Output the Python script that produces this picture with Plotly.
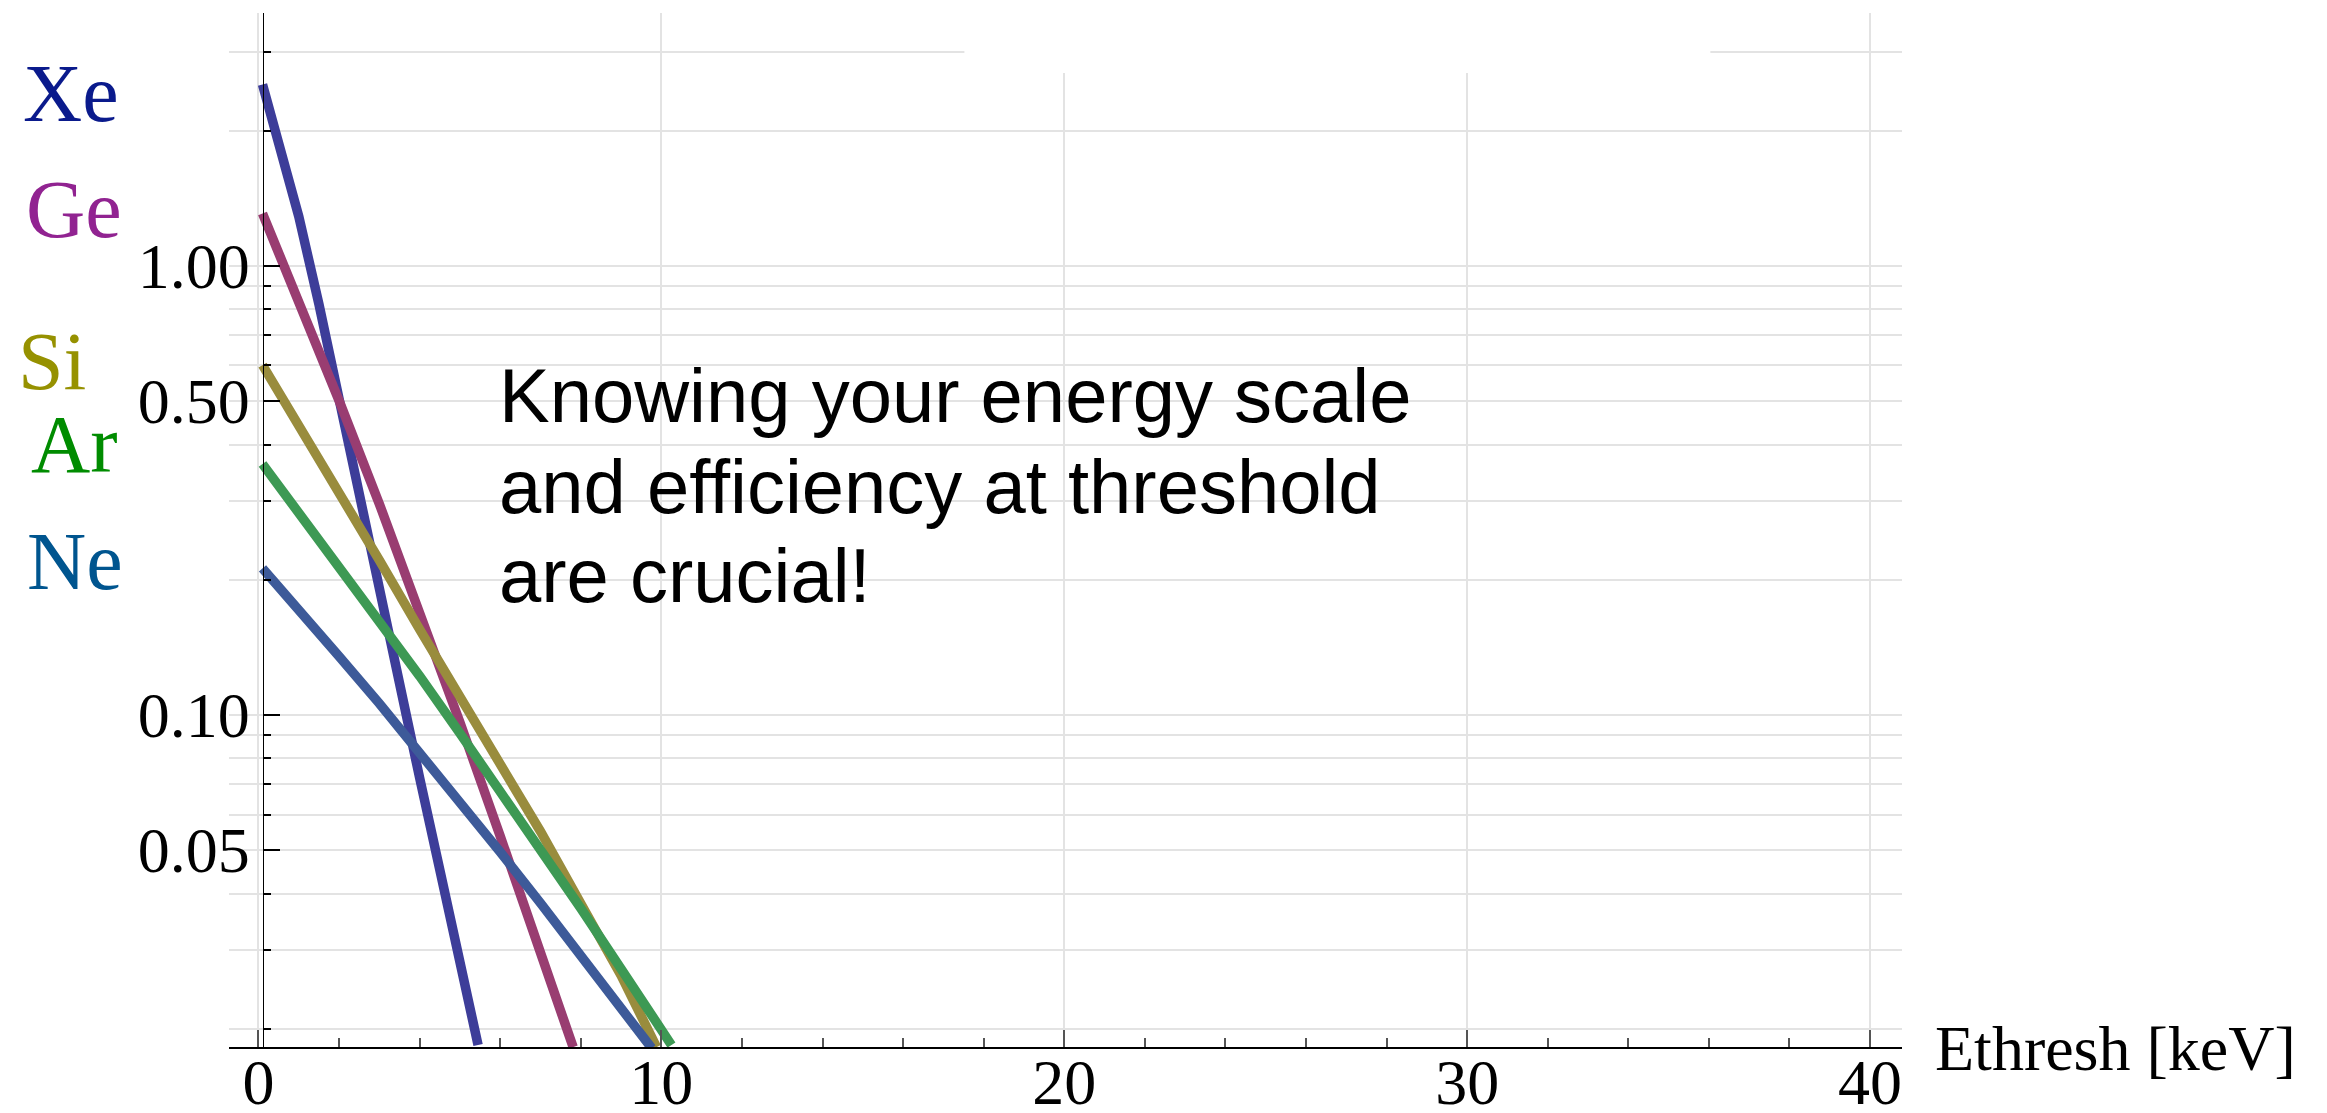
import plotly.graph_objects as go

# ---------------- data ----------------
xe_e = [0.1, 0.5, 1.0, 1.5, 2.0, 2.5, 3.0, 3.5, 4.0, 4.5, 5.0, 5.45]
xe_r = [2.535, 1.905, 1.288, 0.822, 0.501, 0.305, 0.186, 0.116, 0.0724,
        0.0452, 0.0282, 0.0184]

ge_e = [0.1, 1.0, 2.0, 3.0, 4.0, 5.0, 6.0, 7.0, 7.81]
ge_r = [1.308, 0.834, 0.501, 0.295, 0.170, 0.0962, 0.0537, 0.0296, 0.0182]

si_e = [0.1, 1.0, 2.0, 3.0, 4.0, 5.0, 6.0, 7.0, 8.0, 9.0, 9.88]
si_r = [0.601, 0.442, 0.314, 0.221, 0.155, 0.110, 0.0776, 0.0550, 0.0380,
        0.0263, 0.0182]

ar_e = [0.1, 1.0, 2.0, 3.0, 4.0, 5.0, 6.0, 7.0, 8.0, 9.0, 10.25]
ar_r = [0.362, 0.282, 0.214, 0.162, 0.122, 0.0910, 0.0678, 0.0502, 0.0371,
        0.0272, 0.0184]

ne_e = [0.1, 1.0, 2.0, 3.0, 4.0, 5.0, 6.0, 7.0, 8.0, 9.0, 9.76]
ne_r = [0.212, 0.172, 0.135, 0.106, 0.0826, 0.0641, 0.0495, 0.0381, 0.0292,
        0.0222, 0.0181]

series_names = ["Xe", "Ge", "Si", "Ar", "Ne"]
line_colors = ["#3D3D99", "#993D71", "#998C3D", "#3D9954", "#3D5A99"]
label_colors = ["#0A1A8C", "#912391", "#969100", "#008C00", "#00558F"]

x_tickvals = [0, 10, 20, 30, 40]
y_tickvals = [0.05, 0.1, 0.5, 1.0]
y_ticktext = ["0.05", "0.10", "0.50", "1.00"]
y_minorvals = [0.02, 0.03, 0.04, 0.06, 0.07, 0.08, 0.09,
               0.2, 0.3, 0.4, 0.6, 0.7, 0.8, 0.9, 2, 3]

x_title = "Ethresh [keV]"
note_lines = ["Knowing your energy scale",
              "and efficiency at threshold",
              "are crucial!"]

# ---------------- layout geometry ----------------
OFF = 8                      # page body margin
W, H = 2327 - OFF, 1113 - OFF
# plot-area edges in screen pixels
L_s, R_s, T_s, B_s = 229, 1902.5, 12.7, 1047.3
L, R, T, B = L_s - OFF, R_s - OFF, T_s - OFF, B_s - OFF
x_range = [-0.732, 40.794]
y_range = [-1.7396, 0.5631]


def px_x(sx):
    return (sx - OFF - L) / (R - L)


def px_y(sy):
    return (B - (sy - OFF)) / (B - T)


grid = "#E3E3E3"
serif = "Liberation Serif"

fig = go.Figure()
for e, r, c in zip([xe_e, ge_e, si_e, ar_e, ne_e],
                   [xe_r, ge_r, si_r, ar_r, ne_r], line_colors):
    fig.add_trace(go.Scatter(x=e, y=r, mode="lines",
                             line=dict(color=c, width=9.5),
                             hoverinfo="skip"))

yaxis_pos = (0.104 - x_range[0]) / (x_range[1] - x_range[0])

fig.update_layout(
    width=W, height=H,
    margin=dict(l=L, r=W - R, t=T, b=H - B, pad=0, autoexpand=False),
    plot_bgcolor="white", paper_bgcolor="white",
    showlegend=False,
    xaxis=dict(
        range=x_range, tickvals=x_tickvals,
        ticks="inside", ticklen=17, tickwidth=1.5, tickcolor="#555555",
        showline=True, linecolor="black", linewidth=1.5,
        showgrid=True, gridcolor=grid, gridwidth=1.5, zeroline=False,
        tickfont=dict(family=serif, size=64, color="black"),
        ticklabelstandoff=-22,
        minor=dict(dtick=2, tick0=0, ticks="inside", ticklen=9,
                   tickwidth=1.5, tickcolor="#555555", showgrid=False),
        automargin=False,
    ),
    yaxis=dict(
        type="log", range=y_range,
        tickvals=y_tickvals, ticktext=y_ticktext,
        ticks="inside", ticklen=16, tickwidth=1.5, tickcolor="black",
        showline=True, linecolor="black", linewidth=1.3,
        anchor="free", position=yaxis_pos,
        showgrid=True, gridcolor=grid, gridwidth=1.5,
        tickfont=dict(family=serif, size=64, color="black"),
        minor=dict(tickvals=y_minorvals, ticks="inside", ticklen=7,
                   tickwidth=1.5, tickcolor="black",
                   showgrid=True, gridcolor=grid, gridwidth=1.5),
        automargin=False,
    ),
)

# white patch over the top of the grid (as in the reference)
fig.add_shape(type="rect", xref="paper", yref="paper",
              x0=px_x(964.6), x1=px_x(1710.8), y0=px_y(72.7), y1=1.02,
              fillcolor="white", line=dict(width=0), layer="above")

# element labels (screen px: ink left edge, baseline)
label_left = [24, 27, 19, 32, 28]
label_base = [121, 237, 389, 472, 589]
fs_lab = 82
for name, col, lx, by in zip(series_names, label_colors, label_left, label_base):
    fig.add_annotation(text=name, xref="paper", yref="paper",
                       x=px_x(lx - 3), y=px_y(by - 0.3375 * fs_lab),
                       xanchor="left", yanchor="middle", showarrow=False,
                       font=dict(family=serif, size=fs_lab, color=col))

# x-axis title at the right end of the axis
fig.add_annotation(text=x_title, xref="paper", yref="paper",
                   x=px_x(1934), y=px_y(1070 - 0.3375 * 64),
                   xanchor="left", yanchor="middle", showarrow=False,
                   font=dict(family=serif, size=64, color="black"))

# note, one annotation per line
fs_note = 76
note_base = [422, 512.5, 602]
for line, by in zip(note_lines, note_base):
    fig.add_annotation(text=line, xref="paper", yref="paper",
                       x=px_x(497.5), y=px_y(by - 0.3465 * fs_note),
                       xanchor="left", yanchor="middle", align="left",
                       showarrow=False,
                       font=dict(family="Liberation Sans", size=fs_note,
                                 color="black"))

fig.write_html("out.html")
